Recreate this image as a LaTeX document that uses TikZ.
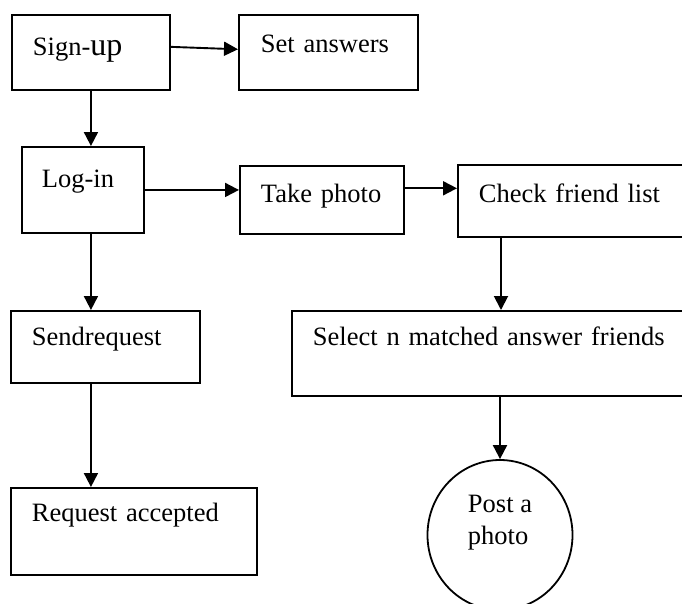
\documentclass[tikz,border=0pt]{standalone}
\usepackage{fontspec}
\setmainfont{Liberation Serif}
\usetikzlibrary{arrows.meta,shapes.geometric}
\begin{document}
\begin{tikzpicture}[x=1pt,y=-1pt,
    box/.style={draw,rectangle,line width=1.9pt,inner ysep=0pt,align=left,anchor=north west,
        font=\fontsize{26.5pt}{32pt}\selectfont},
    arr/.style={-{Triangle[length=14pt,width=14pt]},line width=1.9pt}]
    \useasboundingbox (0,0) rectangle (682,603);
    \clip (0,0) rectangle (682,603);
    \node[box,inner xsep=21pt,text width=116pt,text height=41pt,text depth=34pt] (signup) at (11,14) {Sign-{\fontsize{32pt}{34pt}\selectfont up}};
    \node[box,inner xsep=22pt,text width=135pt,text height=38pt,text depth=37pt] (answers) at (238,14) {Set answers};
    \node[box,inner xsep=20pt,text width=82pt,text height=41pt,text depth=45pt] (login) at (21,146) {Log-in};
    \node[box,inner xsep=21pt,text width=122pt,text height=37pt,text depth=31pt] (photo) at (239,165) {Take photo};
    \node[box,inner xsep=21pt,text width=221pt,text height=38pt,text depth=34pt] (check) at (457,164) {Check friend list};
    \node[box,inner xsep=21pt,text width=387pt,text height=35pt,text depth=50pt] (select) at (291,310) {Select n matched answer friends};
    \node[box,inner xsep=21pt,text width=147pt,text height=35pt,text depth=37pt] (send) at (10,310) {Sendrequest};
    \node[box,inner xsep=21pt,text width=204pt,text height=34pt,text depth=53pt] (accepted) at (10,487) {Request accepted};
    \node[draw,ellipse,line width=1.8pt,inner sep=0pt,minimum width=145pt,minimum height=150pt,align=left,
        font=\fontsize{26.5pt}{32pt}\selectfont] (post) at (500,535) {Post a\\photo\rule[-30pt]{0pt}{0pt}};
    % arrows
    \draw[arr] (signup.4) -- (answers.178.4);
    \draw[arr] (signup.south) -- (signup.south |- login.north);
    \draw[arr] (login.east) -- (login.east -| photo.west);
    \draw[arr] (photo.8) -- (photo.8 -| check.west);
    \draw[arr] ([xshift=44pt]check.south west) -- ([xshift=44pt]check.south west |- select.north);
    \draw[arr] (post.north |- select.south) -- (post.north);
    \draw[arr] (signup.south |- login.south) -- (signup.south |- send.north);
    \draw[arr] (signup.south |- send.south) -- (signup.south |- accepted.north);
\end{tikzpicture}
\end{document}
